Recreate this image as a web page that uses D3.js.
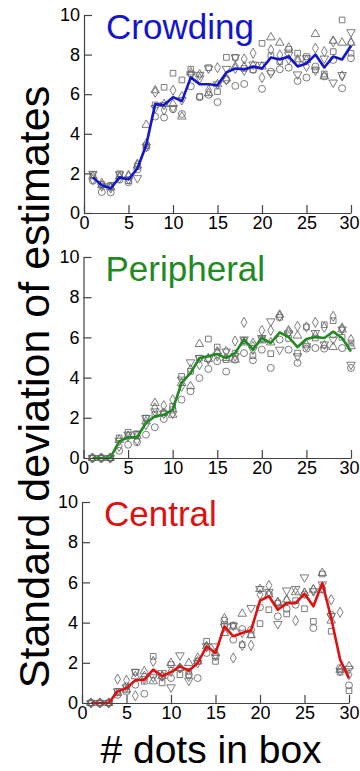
<!DOCTYPE html>
<html>
<head>
<meta charset="utf-8">
<script src="https://cdn.jsdelivr.net/npm/d3@7/dist/d3.min.js"></script>
<style>
  html, body { margin: 0; padding: 0; background: #fff; }
  svg { display: block; font-family: "Liberation Sans", Arial, Helvetica, sans-serif; }
</style>
</head>
<body>
<div id="chart"></div>
<script>
// x = number of dots in the box (1..30)
const dots = d3.range(1, 31);
const xTicks = [0, 5, 10, 15, 20, 25, 30];
const yTicks = [0, 2, 4, 6, 8, 10];

// Crowding
const crowdMean = [1.8, 1.4, 1.25, 1.8, 1.7, 2.25, 3.45, 5.5, 5.45, 5.85, 5.65, 6.85, 6.5, 6.5, 6.45, 7.1, 7.3, 7.25, 7.4, 7.3, 7.85, 7.75, 7.9, 7.4, 7.55, 8.0, 7.35, 7.9, 7.75, 8.45];
const crowdCircle = [1.63, 1.06, 1.04, 1.68, 1.55, 2.2, 3.3, 4.87, 4.82, 5.24, 5.0, 6.4, 5.85, 5.97, 5.6, 6.72, 6.42, 6.52, 7.23, 6.27, 7.14, 7.26, 7.34, 6.67, 6.84, 7.4, 6.9, 7.73, 6.3, 7.82];
const crowdSquare = [1.93, 1.43, 1.4, 1.98, 1.63, 2.35, 3.4, 5.46, 6.35, 7.06, 6.72, 7.26, 5.88, 7.34, 6.13, 7.86, 7.86, 7.3, 7.23, 8.57, 7.95, 7.65, 8.27, 8.07, 7.9, 7.23, 7.02, 8.15, 9.75, 8.07];
const crowdDiamond = [1.7, 1.5, 1.26, 1.78, 1.9, 2.47, 3.5, 6.1, 5.2, 6.2, 5.88, 6.97, 6.8, 6.2, 7.34, 6.72, 7.3, 7.78, 8.07, 6.84, 8.24, 7.98, 7.76, 7.65, 7.4, 8.32, 8.15, 8.65, 6.92, 8.6];
const crowdUp = [1.85, 1.4, 1.3, 1.85, 1.85, 2.4, 4.45, 6.2, 5.5, 5.5, 4.87, 7.1, 7.0, 6.05, 6.5, 6.8, 7.4, 7.4, 7.45, 7.4, 8.87, 8.6, 8.35, 7.76, 7.73, 9.04, 6.9, 8.7, 8.6, 8.6];
const crowdDown = [1.98, 1.35, 1.35, 1.95, 1.7, 1.76, 3.35, 5.3, 5.46, 5.3, 5.7, 7.0, 6.98, 7.3, 6.5, 7.28, 7.86, 7.2, 7.5, 7.48, 7.06, 7.7, 8.0, 7.0, 7.82, 7.2, 7.8, 6.59, 6.97, 9.13];

// Peripheral
const periMean = [0, 0, 0, 0.83, 1.03, 1.03, 1.74, 2.07, 2.15, 2.4, 3.73, 4.23, 4.97, 5.06, 5.17, 4.97, 5.22, 5.89, 5.39, 5.97, 5.72, 6.25, 6.02, 5.52, 5.92, 6.02, 5.97, 6.28, 5.97, 5.3];
const periCircle = [0, 0, 0, 0.36, 0.66, 0.78, 1.16, 1.53, 1.94, 2.4, 2.9, 3.32, 3.98, 4.43, 4.81, 4.3, 4.89, 5.22, 4.86, 5.39, 4.48, 5.89, 5.39, 4.73, 5.44, 5.47, 5.44, 6.14, 5.47, 4.48];
const periSquare = [0, 0, 0, 1.0, 1.28, 1.2, 1.99, 2.16, 2.25, 2.57, 4.06, 4.31, 4.97, 5.92, 5.52, 4.89, 5.22, 5.85, 5.09, 5.92, 5.19, 7.0, 5.95, 5.22, 6.52, 5.97, 6.63, 6.83, 6.0, 5.72];
const periDiamond = [0, 0, 0, 0.58, 1.08, 0.88, 1.66, 2.49, 2.6, 2.9, 3.57, 4.4, 4.64, 4.95, 5.22, 5.3, 5.82, 6.75, 5.55, 6.35, 6.35, 7.05, 6.25, 6.55, 6.52, 6.75, 6.5, 7.05, 6.47, 5.89];
const periUp = [0, 0, 0, 0.9, 1.1, 1.1, 1.82, 2.74, 2.25, 2.15, 3.73, 3.57, 5.67, 4.93, 5.3, 4.97, 4.89, 5.75, 5.72, 5.85, 5.75, 7.13, 6.35, 6.09, 5.64, 6.1, 5.6, 5.52, 6.39, 5.56];
const periDown = [0, 0, 0, 0.86, 1.16, 1.2, 1.99, 2.32, 2.2, 2.2, 3.9, 4.76, 4.97, 4.9, 5.07, 5.3, 5.07, 5.9, 5.39, 5.97, 6.8, 5.39, 6.2, 5.06, 5.56, 6.22, 5.65, 5.89, 6.39, 4.64];

// Central
const centMean = [0, 0, 0, 0.58, 0.75, 1.13, 1.16, 1.66, 1.33, 1.54, 1.82, 1.61, 1.99, 2.82, 2.49, 3.81, 3.32, 3.48, 3.62, 5.09, 5.31, 4.64, 4.97, 4.97, 5.44, 4.81, 5.97, 4.23, 2.16, 1.24];
const centCircle = [0, 0, 0, 0.41, 0.83, 0.91, 0.46, 1.41, 1.33, 1.24, 1.74, 1.41, 1.24, 2.49, 2.29, 4.1, 3.15, 3.68, 3.65, 4.76, 5.42, 4.31, 4.69, 4.89, 5.39, 3.73, 5.64, 4.39, 1.74, 0.88];
const centSquare = [0, 0, 0, 0.58, 0.58, 1.54, 1.08, 2.32, 1.0, 1.91, 1.41, 1.58, 2.07, 3.07, 2.07, 3.9, 3.87, 2.9, 3.4, 3.95, 4.64, 4.97, 4.43, 5.09, 4.69, 4.06, 6.42, 3.57, 1.53, 0.61];
const centDiamond = [0, 0, 0, 1.19, 1.13, 0.36, 1.33, 2.07, 1.33, 1.57, 1.74, 1.33, 2.24, 2.8, 2.4, 4.2, 2.24, 2.87, 2.87, 5.39, 5.85, 5.0, 5.1, 4.1, 5.47, 5.64, 5.72, 5.14, 4.51, 1.41];
const centUp = [0, 0, 0, 0.5, 0.66, 1.33, 1.58, 1.08, 1.33, 1.99, 1.74, 1.99, 2.07, 2.82, 2.49, 3.48, 3.8, 4.44, 3.37, 5.67, 5.39, 5.0, 5.14, 5.51, 5.47, 5.64, 6.47, 4.1, 1.65, 1.82];
const centDown = [0, 0, 0, 0.58, 0.78, 1.54, 1.2, 1.28, 1.49, 0.78, 2.37, 1.11, 1.99, 2.82, 2.82, 3.81, 3.84, 3.5, 4.73, 5.67, 5.53, 3.93, 5.6, 5.67, 6.25, 5.56, 5.9, 4.33, 1.6, 1.7];

const W = 360, H = 771;

const panels = [
  {title: 'Crowding', color: '#1515cc', mean: crowdMean,
   obs: [crowdCircle, crowdSquare, crowdDiamond, crowdUp, crowdDown],
   left: 84, right: 351, top: 15, bottom: 213},
  {title: 'Peripheral', color: '#1f8a1f', mean: periMean,
   obs: [periCircle, periSquare, periDiamond, periUp, periDown],
   left: 83.5, right: 351, top: 257, bottom: 458},
  {title: 'Central', color: '#e01010', mean: centMean,
   obs: [centCircle, centSquare, centDiamond, centUp, centDown],
   left: 82, right: 349, top: 502, bottom: 703}
];

// marker shapes per observer: circle, square, diamond, triangle up, triangle down
const shapes = [
  {type: d3.symbolCircle, size: 38, rot: 0},
  {type: d3.symbolSquare, size: 32, rot: 0},
  {type: d3.symbolDiamond, size: 30, rot: 0},
  {type: d3.symbolTriangle, size: 32, rot: 0},
  {type: d3.symbolTriangle, size: 32, rot: 180}
];

const svg = d3.select('#chart').append('svg')
  .attr('width', W)
  .attr('height', H);

panels.forEach(p => {
  const x = d3.scaleLinear().domain([0, 30]).range([p.left, p.right]);
  const y = d3.scaleLinear().domain([0, 10]).range([p.bottom, p.top]);
  const g = svg.append('g');

  // observer markers
  p.obs.forEach((vals, i) => {
    const s = shapes[i];
    g.append('g').selectAll('path')
      .data(vals.map((v, j) => ({x: dots[j], y: v})))
      .join('path')
      .attr('transform', d => `translate(${x(d.x)},${y(d.y)}) rotate(${s.rot})`)
      .attr('d', d3.symbol().type(s.type).size(s.size))
      .attr('fill', 'none')
      .attr('stroke', '#666')
      .attr('stroke-width', 0.85);
  });

  // mean line
  g.append('path')
    .datum(p.mean.map((v, j) => ({x: dots[j], y: v})))
    .attr('fill', 'none')
    .attr('stroke', p.color)
    .attr('stroke-width', 2.6)
    .attr('stroke-linejoin', 'round')
    .attr('d', d3.line().x(d => x(d.x)).y(d => y(d.y)));

  // axes, ticks pointing inwards
  const ax = g.append('g')
    .attr('transform', `translate(0,${p.bottom})`)
    .call(d3.axisBottom(x).tickValues(xTicks).tickSizeInner(-8).tickSizeOuter(0).tickPadding(3));
  const ay = g.append('g')
    .attr('transform', `translate(${p.left},0)`)
    .call(d3.axisLeft(y).tickValues(yTicks).tickSizeInner(-8).tickSizeOuter(0).tickPadding(4));
  [ax, ay].forEach(a => {
    a.selectAll('.domain, line').attr('stroke', '#444').attr('stroke-width', 1.2);
    a.selectAll('text').attr('font-size', 18).attr('fill', '#000')
      .attr('font-family', '"Liberation Sans", Arial, sans-serif');
  });
  // keep the last x label inside the picture
  ax.selectAll('.tick text').filter(d => d === 30)
    .attr('text-anchor', 'end')
    .attr('x', Math.min(10, W - 1 - p.right));

  // panel title
  g.append('text')
    .attr('x', p.left + 22)
    .attr('y', p.top + 24)
    .attr('font-size', 35)
    .attr('fill', p.color)
    .text(p.title);
});

// shared axis labels
svg.append('text')
  .attr('transform', 'translate(49,387) rotate(-90)')
  .attr('text-anchor', 'middle')
  .attr('font-size', 43)
  .attr('fill', '#000')
  .text('Standard deviation of estimates');

svg.append('text')
  .attr('x', 211)
  .attr('y', 763)
  .attr('text-anchor', 'middle')
  .attr('font-size', 39)
  .attr('fill', '#000')
  .text('# dots in box');
</script>
</body>
</html>
